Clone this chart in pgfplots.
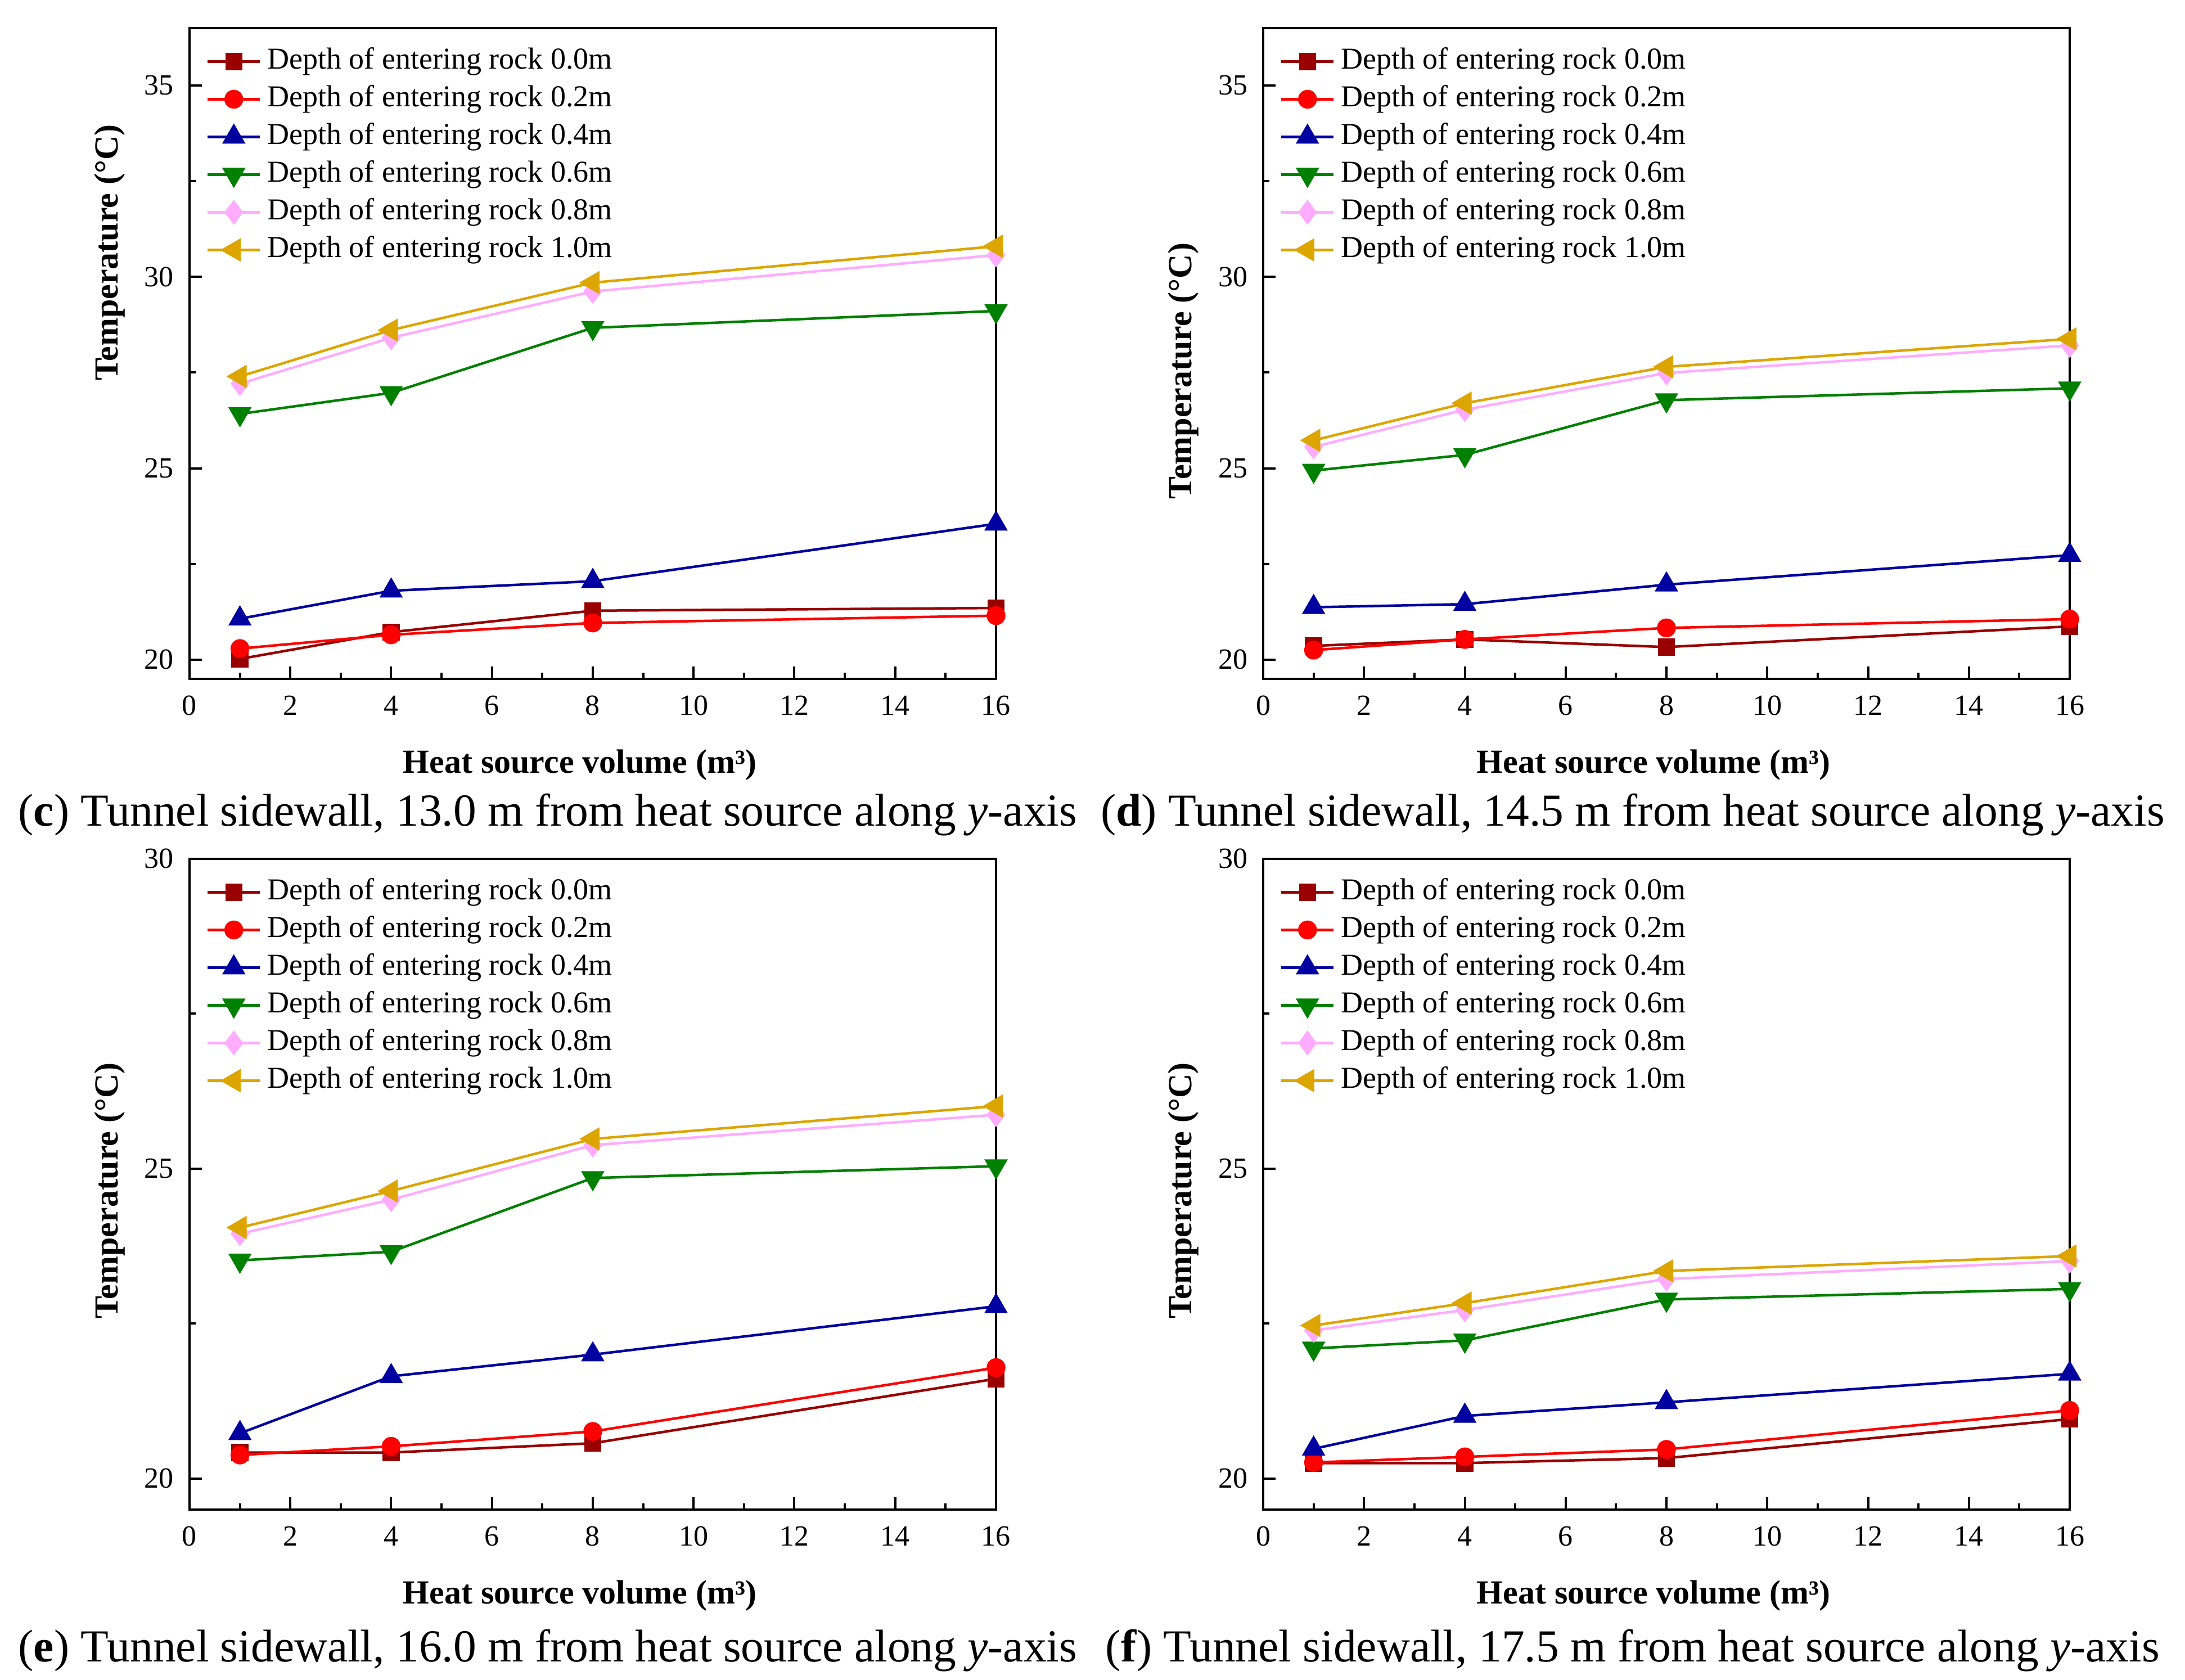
\documentclass[border=0pt]{standalone}
\usepackage{fontspec}
\setmainfont{Liberation Serif}
\usepackage{pgfplots}
\pgfplotsset{compat=1.18}
\usetikzlibrary{plotmarks}

\definecolor{c0}{RGB}{153,0,0}
\definecolor{c1}{RGB}{255,0,0}
\definecolor{c2}{RGB}{0,0,160}
\definecolor{c3}{RGB}{0,128,0}
\definecolor{c4}{RGB}{255,172,255}
\definecolor{c5}{RGB}{221,165,0}

\pgfplotsset{
  s0/.style={c0, line width=0.45pt, mark=square*, mark size=1.3pt, mark options={solid}},
  s1/.style={c1, line width=0.45pt, mark=*, mark size=1.45pt, mark options={solid}},
  s2/.style={c2, line width=0.45pt, mark=triangle*, mark size=1.95pt, mark options={solid}},
  s3/.style={c3, line width=0.45pt, mark=triangle*, mark size=1.95pt, mark options={solid,rotate=180}},
  s4/.style={c4, line width=0.45pt, mark=diamond*, mark size=1.85pt, mark options={solid}},
  s5/.style={c5, line width=0.45pt, mark=triangle*, mark size=1.95pt, mark options={solid,rotate=90}},
  myaxis/.style={
    scale only axis, width=143.4pt, height=115.7pt, anchor=south west,
    xmin=0, xmax=16, xtick={0,2,...,16}, minor x tick num=1,
    ytick distance=5, minor y tick num=1,
    tick pos=left, tick align=inside,
    major tick length=2.2pt, minor tick length=1.1pt,
    axis line style={line width=0.45pt},
    every tick/.style={line width=0.4pt, black},
    /pgf/number format/assume math mode=true,
    ticklabel style={font=\fontsize{5.2}{6}\selectfont},
    xticklabel style={inner sep=0pt, anchor=north, yshift=-2.8pt},
    yticklabel style={inner sep=0pt, anchor=east, xshift=-2.6pt},
    label style={font=\bfseries\fontsize{6}{7}\selectfont},
    xlabel={Heat source volume (m³)},
    ylabel={Temperature (°C)},
    xlabel style={at={(axis description cs:0.5,0)}, anchor=base, yshift=-16.8pt, xshift=-2.3pt},
    legend cell align=left,
    legend style={draw=none, fill=none, inner sep=0pt, outer sep=0pt,
      at={(axis description cs:0,1)}, anchor=north west, xshift=3.0pt, yshift=-3.5pt,
      font=\fontsize{5.4}{6}\selectfont, row sep=1.8pt,
      nodes={inner sep=0pt, text height=3.8pt, text depth=1.1pt},
      /tikz/every odd column/.append style={column sep=1.1pt}},
    legend image code/.code={\draw[mark repeat=2,mark phase=2,##1] plot coordinates {(0pt,0pt)(4.65pt,0pt)(9.3pt,0pt)};},
  },
}

\newcommand{\mylegend}{\legend{Depth of entering rock 0.0m,Depth of entering rock 0.2m,Depth of entering rock 0.4m,Depth of entering rock 0.6m,Depth of entering rock 0.8m,Depth of entering rock 1.0m}}

\begin{document}
\begin{tikzpicture}
\path[use as bounding box] (0,0) rectangle (388.5pt,298.7pt);

% (c)
\begin{axis}[myaxis, at={(33.7pt,178.0pt)}, ymin=19.5, ymax=36.5,
  ylabel style={at={(axis description cs:-0.089,0.655)}, anchor=base}]
\addplot[s0] coordinates {(1,20.02)(4,20.72)(8,21.28)(16,21.35)};
\addplot[s1] coordinates {(1,20.29)(4,20.65)(8,20.96)(16,21.15)};
\addplot[s2] coordinates {(1,21.07)(4,21.80)(8,22.05)(16,23.55)};
\addplot[s3] coordinates {(1,26.42)(4,26.97)(8,28.67)(16,29.11)};
\addplot[s4] coordinates {(1,27.21)(4,28.41)(8,29.62)(16,30.57)};
\addplot[s5] coordinates {(1,27.40)(4,28.61)(8,29.85)(16,30.80)};
\mylegend
\end{axis}

% (d)
\begin{axis}[myaxis, at={(224.6pt,178.0pt)}, ymin=19.5, ymax=36.5,
  ylabel style={at={(axis description cs:-0.089,0.473)}, anchor=base}]
\addplot[s0] coordinates {(1,20.36)(4,20.53)(8,20.33)(16,20.87)};
\addplot[s1] coordinates {(1,20.25)(4,20.53)(8,20.83)(16,21.06)};
\addplot[s2] coordinates {(1,21.37)(4,21.45)(8,21.96)(16,22.73)};
\addplot[s3] coordinates {(1,24.94)(4,25.35)(8,26.78)(16,27.09)};
\addplot[s4] coordinates {(1,25.56)(4,26.53)(8,27.49)(16,28.21)};
\addplot[s5] coordinates {(1,25.73)(4,26.70)(8,27.65)(16,28.38)};
\mylegend
\end{axis}

% (e)
\begin{axis}[myaxis, at={(33.7pt,30.3pt)}, ymin=19.5, ymax=30,
  ylabel style={at={(axis description cs:-0.089,0.49)}, anchor=base}]
\addplot[s0] coordinates {(1,20.42)(4,20.42)(8,20.57)(16,21.61)};
\addplot[s1] coordinates {(1,20.38)(4,20.52)(8,20.76)(16,21.79)};
\addplot[s2] coordinates {(1,20.73)(4,21.65)(8,22.00)(16,22.78)};
\addplot[s3] coordinates {(1,23.52)(4,23.66)(8,24.85)(16,25.04)};
\addplot[s4] coordinates {(1,23.95)(4,24.50)(8,25.38)(16,25.87)};
\addplot[s5] coordinates {(1,24.05)(4,24.64)(8,25.48)(16,26.01)};
\mylegend
\end{axis}

% (f)
\begin{axis}[myaxis, at={(224.6pt,30.3pt)}, ymin=19.5, ymax=30,
  ylabel style={at={(axis description cs:-0.089,0.49)}, anchor=base}]
\addplot[s0] coordinates {(1,20.25)(4,20.25)(8,20.33)(16,20.96)};
\addplot[s1] coordinates {(1,20.26)(4,20.35)(8,20.47)(16,21.10)};
\addplot[s2] coordinates {(1,20.48)(4,21.01)(8,21.23)(16,21.69)};
\addplot[s3] coordinates {(1,22.10)(4,22.23)(8,22.89)(16,23.06)};
\addplot[s4] coordinates {(1,22.39)(4,22.72)(8,23.22)(16,23.51)};
\addplot[s5] coordinates {(1,22.47)(4,22.83)(8,23.35)(16,23.59)};
\mylegend
\end{axis}

\node[anchor=base, font=\fontsize{8.15}{9}\selectfont] at (97.4pt,151.8pt) {(\textbf{c}) Tunnel sidewall, 13.0 m from heat source along \textit{y}-axis};
\node[anchor=base, font=\fontsize{8.15}{9}\selectfont] at (290.3pt,151.8pt) {(\textbf{d}) Tunnel sidewall, 14.5 m from heat source along \textit{y}-axis};
\node[anchor=base, font=\fontsize{8.15}{9}\selectfont] at (97.4pt,3.2pt) {(\textbf{e}) Tunnel sidewall, 16.0 m from heat source along \textit{y}-axis};
\node[anchor=base, font=\fontsize{8.15}{9}\selectfont] at (290.3pt,3.2pt) {(\textbf{f}) Tunnel sidewall, 17.5 m from heat source along \textit{y}-axis};
\end{tikzpicture}
\end{document}
